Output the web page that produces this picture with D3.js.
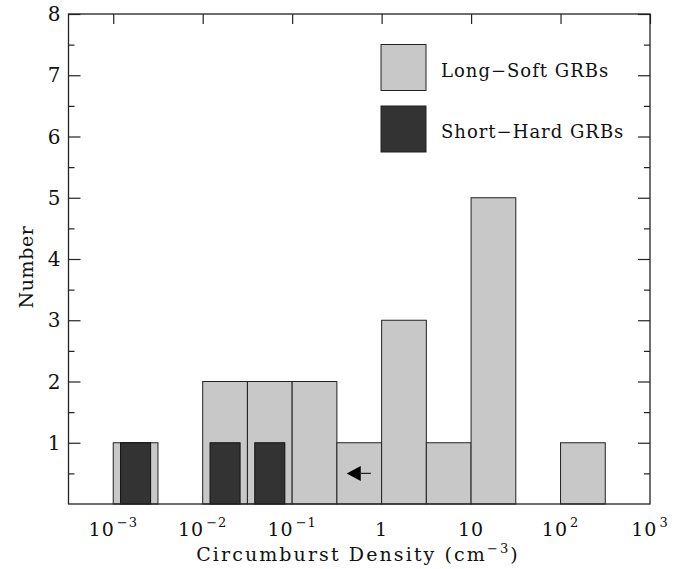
<!DOCTYPE html>
<html>
<head>
<meta charset="utf-8">
<script src="https://cdn.jsdelivr.net/npm/d3@7"></script>
<style>
  html, body { margin: 0; padding: 0; background: #fff; }
  svg text { font-family: "DejaVu Serif", serif; fill: #111; }
</style>
</head>
<body>
<svg id="chart" width="683" height="569"></svg>
<script>
// Half-decade bins in log10(n / cm^-3): lower edge of each bin
const binStart = [-3, -2.5, -2, -1.5, -1, -0.5, 0, 0.5, 1, 1.5, 2, 2.5];
const binWidth = 0.5;
// Counts per bin
const longSoft  = [1, 0, 2, 2, 2, 1, 3, 1, 5, 0, 1, 0];
const shortHard = [1, 0, 1, 1, 0, 0, 0, 0, 0, 0, 0, 0];
// Upper-limit arrow (log10 density from tail to tip, count level)
const limitArrow = { from: -0.12, to: -0.39, level: 0.5 };
// Axis ticks
const xTickExp = [-3, -2, -1, 0, 1, 2, 3];
const xTickLabel = [["10", "−3"], ["10", "−2"], ["10", "−1"], ["1", ""], ["10", ""], ["10", "2"], ["10", "3"]];
const yTicks = [1, 2, 3, 4, 5, 6, 7, 8];
const yMinor = [0.5, 1.5, 2.5, 3.5, 4.5, 5.5, 6.5, 7.5];
const legendItems = ["Long−Soft GRBs", "Short−Hard GRBs"];

const svg = d3.select("#chart");
const plotL = 68.5, plotR = 650, plotT = 14, plotB = 504;

const x = d3.scaleLinear().domain([-3.5, 3]).range([plotL, plotR]);
const y = d3.scaleLinear().domain([0, 8]).range([plotB, plotT]);

const colLong = "#c8c8c8", colShort = "#333333", stroke = "#222";

// Long-soft histogram
svg.append("g").selectAll("rect")
  .data(binStart.map((b, i) => ({ b, v: longSoft[i] })).filter(d => d.v > 0))
  .join("rect")
  .attr("x", d => x(d.b))
  .attr("width", d => x(d.b + binWidth) - x(d.b))
  .attr("y", d => y(d.v))
  .attr("height", d => y(0) - y(d.v))
  .attr("fill", colLong)
  .attr("stroke", stroke)
  .attr("stroke-width", 1);

// Short-hard histogram, narrower bars inside the same bins
const inset = 0.082;
svg.append("g").selectAll("rect")
  .data(binStart.map((b, i) => ({ b, v: shortHard[i] })).filter(d => d.v > 0))
  .join("rect")
  .attr("x", d => x(d.b + inset))
  .attr("width", d => x(d.b + binWidth - inset) - x(d.b + inset))
  .attr("y", d => y(d.v))
  .attr("height", d => y(0) - y(d.v))
  .attr("fill", colShort)
  .attr("stroke", "#111")
  .attr("stroke-width", 1);

// Upper-limit arrow
const ay = y(limitArrow.level);
const headLen = 14, headHalf = 7.5;
svg.append("line")
  .attr("x1", x(limitArrow.from)).attr("x2", x(limitArrow.to) + headLen)
  .attr("y1", ay).attr("y2", ay)
  .attr("stroke", "#222").attr("stroke-width", 1.2);
svg.append("path")
  .attr("d", `M${x(limitArrow.to)},${ay} L${x(limitArrow.to) + headLen},${ay - headHalf} L${x(limitArrow.to) + headLen},${ay + headHalf} Z`)
  .attr("fill", "#000");

// Frame
svg.append("rect")
  .attr("x", plotL).attr("y", plotT)
  .attr("width", plotR - plotL).attr("height", plotB - plotT)
  .attr("fill", "none").attr("stroke", "#222").attr("stroke-width", 1.3);

function styleTicks(g) {
  g.select(".domain").remove();
  g.selectAll("line").attr("stroke", "#222").attr("stroke-width", 1.2);
}

// Left axis (ticks inward) with labels
svg.append("g").attr("transform", `translate(${plotL},0)`)
  .call(d3.axisRight(y).tickValues(yTicks).tickSize(12).tickFormat(""))
  .call(styleTicks);
svg.append("g").attr("transform", `translate(${plotL},0)`)
  .call(d3.axisRight(y).tickValues(yMinor).tickSize(6).tickFormat(""))
  .call(styleTicks);
svg.append("g").selectAll("text")
  .data(yTicks).join("text")
  .attr("x", plotL - 8).attr("y", d => y(d))
  .attr("dy", "0.36em")
  .attr("text-anchor", "end")
  .attr("font-size", 20)
  .text(d => d);

// Right axis (ticks inward)
svg.append("g").attr("transform", `translate(${plotR},0)`)
  .call(d3.axisLeft(y).tickValues(yTicks).tickSize(12).tickFormat(""))
  .call(styleTicks);
svg.append("g").attr("transform", `translate(${plotR},0)`)
  .call(d3.axisLeft(y).tickValues(yMinor).tickSize(6).tickFormat(""))
  .call(styleTicks);

// Top axis ticks at each decade
svg.append("g").attr("transform", `translate(0,${plotT})`)
  .call(d3.axisBottom(x).tickValues(xTickExp).tickSize(10).tickFormat(""))
  .call(styleTicks);

// Bottom tick labels (powers of ten), whole label centred on its decade
const xl = svg.append("g").selectAll("text")
  .data(xTickExp.map((e, i) => ({ e, lab: xTickLabel[i] })))
  .join("text")
  .attr("x", d => x(d.e))
  .attr("y", 536)
  .attr("font-size", 19)
  .attr("letter-spacing", 1)
  .attr("text-anchor", "middle");
xl.each(function (d) {
  const t = d3.select(this);
  t.append("tspan").text(d.lab[0]);
  if (d.lab[1]) t.append("tspan").attr("dx", 2).attr("dy", -9).attr("font-size", 13).text(d.lab[1]);
});

// Axis titles
const xt = svg.append("text")
  .attr("x", 358).attr("y", 561)
  .attr("text-anchor", "middle")
  .attr("letter-spacing", 2.1)
  .attr("font-size", 19);
xt.append("tspan").text("Circumburst Density (cm");
xt.append("tspan").attr("dy", -8).attr("font-size", 13).text("−3");
xt.append("tspan").attr("dy", 8).text(")");

svg.append("text")
  .attr("transform", `translate(33,267) rotate(-90)`)
  .attr("text-anchor", "middle")
  .attr("letter-spacing", 0.6)
  .attr("font-size", 19)
  .text("Number");

// Legend
const legend = svg.append("g");
const legendFill = [colLong, colShort];
legendItems.forEach((name, i) => {
  const gy = 44.5 + i * 61.5;
  legend.append("rect")
    .attr("x", 381).attr("y", gy).attr("width", 45).attr("height", 46)
    .attr("fill", legendFill[i]).attr("stroke", "#222").attr("stroke-width", 1);
  legend.append("text")
    .attr("x", 441).attr("y", gy + 32)
    .attr("font-size", 18)
    .attr("letter-spacing", 1)
    .text(name);
});
</script>
</body>
</html>
